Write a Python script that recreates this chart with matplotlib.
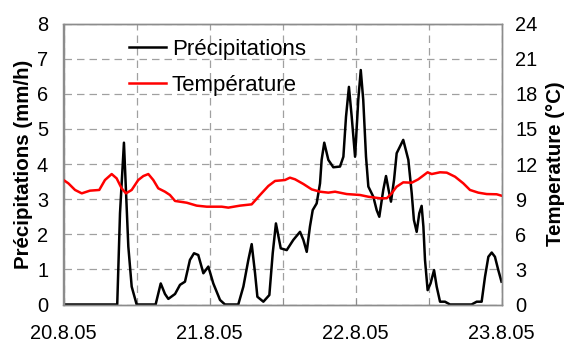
import matplotlib
matplotlib.use("Agg")
import matplotlib.pyplot as plt

# Precipitation (mm/h) vs time in days from 20.8.05
precip_day = [0, 0.368, 0.387, 0.414, 0.444, 0.467, 0.501, 0.631, 0.666, 0.695, 0.718,
              0.764, 0.798, 0.832, 0.866, 0.894, 0.923, 0.958, 0.992, 1.026, 1.072,
              1.106, 1.197, 1.232, 1.266, 1.289, 1.312, 1.328, 1.369, 1.41, 1.433,
              1.455, 1.488, 1.529, 1.574, 1.62, 1.643, 1.666, 1.688, 1.707, 1.734,
              1.757, 1.768, 1.786, 1.814, 1.848, 1.894, 1.917, 1.935, 1.955, 1.974,
              1.997, 2.019, 2.036, 2.053, 2.072, 2.088, 2.122, 2.145, 2.163, 2.19,
              2.209, 2.227, 2.243, 2.264, 2.282, 2.327, 2.362, 2.385, 2.4, 2.419,
              2.437, 2.453, 2.465, 2.476, 2.494, 2.514, 2.538, 2.556, 2.579, 2.613,
              2.647, 2.795, 2.83, 2.864, 2.887, 2.91, 2.933, 2.955, 2.978, 3.0]
precip_val = [0, 0, 2.6, 4.61, 1.65, 0.51, 0, 0, 0.6, 0.3, 0.16,
              0.3, 0.56, 0.65, 1.27, 1.46, 1.41, 0.89, 1.08, 0.6, 0.13,
              0, 0, 0.51, 1.27, 1.72, 0.89, 0.22, 0.08, 0.27, 1.46,
              2.31, 1.6, 1.55, 1.84, 2.07, 1.84, 1.5, 2.22, 2.69, 2.88,
              3.45, 4.12, 4.61, 4.12, 3.91, 3.93, 4.21, 5.35, 6.2, 5.35,
              4.21, 5.83, 6.68, 5.83, 4.21, 3.36, 3.07, 2.69, 2.5, 3.26,
              3.66, 3.26, 2.93, 3.55, 4.31, 4.69, 4.12, 3.17, 2.41, 2.07,
              2.6, 2.81, 2.22, 1.27, 0.41, 0.6, 0.98, 0.51, 0.08, 0.08,
              0, 0, 0.08, 0.08, 0.79, 1.36, 1.48, 1.36, 0.98, 0.65]

# Temperature (°C)
temp_day = [0, 0.033, 0.079, 0.125, 0.181, 0.245, 0.284, 0.33, 0.364, 0.398, 0.428,
            0.467, 0.512, 0.547, 0.581, 0.615, 0.649, 0.695, 0.729, 0.764, 0.844,
            0.912, 0.981, 1.084, 1.129, 1.209, 1.289, 1.346, 1.403, 1.449, 1.517,
            1.551, 1.586, 1.643, 1.7, 1.757, 1.814, 1.86, 1.94, 2.031, 2.088,
            2.168, 2.214, 2.248, 2.271, 2.282, 2.327, 2.385, 2.43, 2.494, 2.522,
            2.579, 2.625, 2.682, 2.738, 2.784, 2.841, 2.899, 2.967, 3.0]
temp_val = [10.64, 10.36, 9.79, 9.5, 9.73, 9.79, 10.64, 11.15, 10.78, 9.93, 9.5,
            9.79, 10.64, 10.98, 11.15, 10.64, 9.93, 9.64, 9.36, 8.85, 8.7,
            8.45, 8.36, 8.36, 8.28, 8.45, 8.56, 9.36, 10.13, 10.56, 10.64,
            10.84, 10.7, 10.3, 9.84, 9.64, 9.56, 9.64, 9.44, 9.36, 9.21,
            9.08, 9.08, 9.5, 9.9, 10.07, 10.44, 10.41, 10.7, 11.3, 11.15,
            11.3, 11.27, 10.92, 10.36, 9.79, 9.56, 9.44, 9.42, 9.3]

date_ticks = [0, 1, 2, 3]
date_labels = ["20.8.05", "21.8.05", "22.8.05", "23.8.05"]
half_ticks = [0.5, 1.5, 2.5]
left_ticks = list(range(0, 9))
right_ticks = list(range(0, 25, 3))

plt.rcParams['font.family'] = ['Liberation Sans', 'DejaVu Sans']
FS = 14.4
grid_col = '#a0a0a0'
spine_col = '#8c8c8c'

fig = plt.figure(figsize=(5.65, 3.48), dpi=100)
ax = fig.add_axes([63.5 / 565, 43.5 / 348, 438 / 565, 280.8 / 348])
ax2 = ax.twinx()

l1, = ax.plot(precip_day, precip_val, color='black', lw=1.8, label='Précipitations')
l2, = ax2.plot(temp_day, temp_val, color='#ff0000', lw=1.8, label='Température')

ax.set_xlim(0, 3)
ax.set_ylim(0, 8)
ax2.set_ylim(0, 24)
ax.set_xticks(date_ticks)
ax.set_xticklabels(date_labels)
ax.set_xticks(half_ticks, minor=True)
ax.set_yticks(left_ticks)
ax2.set_yticks(right_ticks)

ax.grid(True, which='both', axis='x', color=grid_col, ls=(0, (6, 4)), lw=0.9)
ax.grid(True, which='major', axis='y', color=grid_col, ls=(0, (6, 4)), lw=0.9)
ax.set_axisbelow(True)

ax.tick_params(axis='x', which='both', direction='in', length=4, color=spine_col,
               pad=14, labelsize=FS)
ax.tick_params(axis='y', which='both', length=0, pad=11, labelsize=FS)
ax2.tick_params(axis='y', length=0, pad=10, labelsize=FS)

for a in (ax, ax2):
    for s in a.spines.values():
        s.set_color(spine_col)
        s.set_linewidth(1.0)

ax.set_ylabel('Précipitations (mm/h)', fontsize=14.8, fontweight='bold', labelpad=3)
ax2.set_ylabel('Temperature (°C)', fontsize=14.8, fontweight='bold', labelpad=6)

leg = ax2.legend(handles=[l1, l2], loc='upper left', bbox_to_anchor=(0.15, 0.945),
                 frameon=False, fontsize=16, handlelength=1.67, handletextpad=0.25,
                 labelspacing=0.65, borderpad=0, borderaxespad=0)

fig.savefig('out.png', dpi=100)
